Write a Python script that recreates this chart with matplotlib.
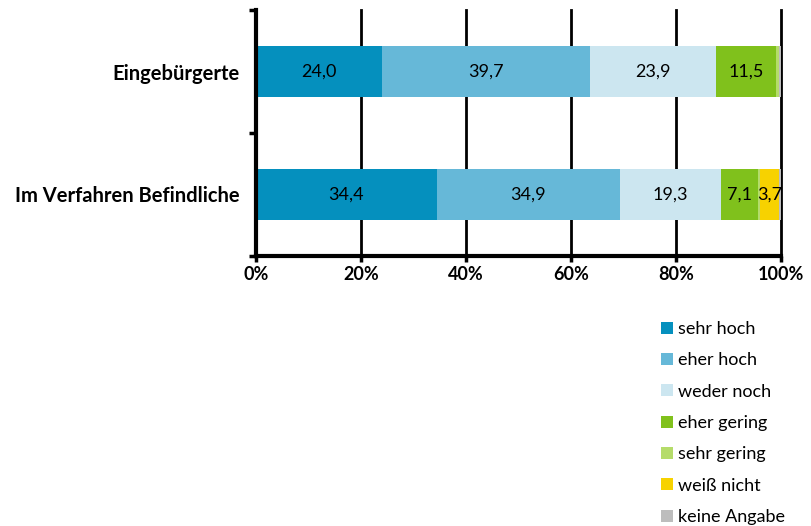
from __future__ import annotations

import matplotlib

matplotlib.use("Agg")
import matplotlib.pyplot as plt
from matplotlib.patches import Patch

# Data
groups = ["Eingebürgerte", "Im Verfahren Befindliche"]
answers = ["sehr hoch", "eher hoch", "weder noch", "eher gering",
           "sehr gering", "weiß nicht", "keine Angabe"]
eingebuergerte = [24.0, 39.7, 23.9, 11.5, 0.6, 0.0, 0.3]
im_verfahren = [34.4, 34.9, 19.3, 7.1, 0.3, 3.7, 0.3]
show_label = [True, True, True, True, False, True, False]
colors = ["#0590be", "#66b8d8", "#cce6f0", "#80c11c",
          "#b5dc6a", "#f7d200", "#bdbdbd"]
xticks = [0, 20, 40, 60, 80, 100]

plt.rcParams["font.family"] = ["Lato", "DejaVu Sans"]

fig = plt.figure(figsize=(8.11, 5.26), dpi=100)
ax = fig.add_axes([256 / 811, 1 - 256 / 526, 525 / 811, 246 / 526])

rows = [eingebuergerte, im_verfahren]
ypos = [1, 0]
for y, vals in zip(ypos, rows):
    left = 0.0
    for i, v in enumerate(vals):
        if v > 0:
            ax.barh(y, v, left=left, height=0.41, color=colors[i],
                    edgecolor="none", zorder=3)
            if show_label[i]:
                ax.text(left + v / 2, y, f"{v:.1f}".replace(".", ","),
                        ha="center", va="center", fontsize=13, zorder=4)
        left += v

ax.set_xlim(0, 100)
ax.set_ylim(-0.5, 1.5)
ax.set_xticks(xticks)
ax.set_xticklabels([f"{t}%" for t in xticks], fontsize=13, fontweight="bold")
ax.set_yticks(ypos)
ax.set_yticklabels(groups, fontsize=14.5, fontweight="bold")
ax.set_yticks([-0.5, 0.5, 1.5], minor=True)
ax.tick_params(axis="y", which="major", length=0, pad=12)
ax.tick_params(axis="y", which="minor", length=5, width=2.5)
ax.tick_params(axis="x", length=4, width=2.5, pad=3)

for x in xticks[1:]:
    ax.axvline(x, color="black", lw=2, zorder=2, clip_on=False)

for side in ["top", "right"]:
    ax.spines[side].set_visible(False)
for side in ["left", "bottom"]:
    ax.spines[side].set_linewidth(3)
    ax.spines[side].set_zorder(5)

handles = [Patch(facecolor=c, edgecolor="none") for c in colors]
fig.legend(handles, answers, loc="upper left",
           bbox_to_anchor=(652 / 811, 1 - 312 / 526), frameon=False,
           fontsize=13, handlelength=0.65, handleheight=0.65,
           handletextpad=0.3, labelspacing=0.85, borderpad=0)

fig.savefig("out.png", dpi=100)
